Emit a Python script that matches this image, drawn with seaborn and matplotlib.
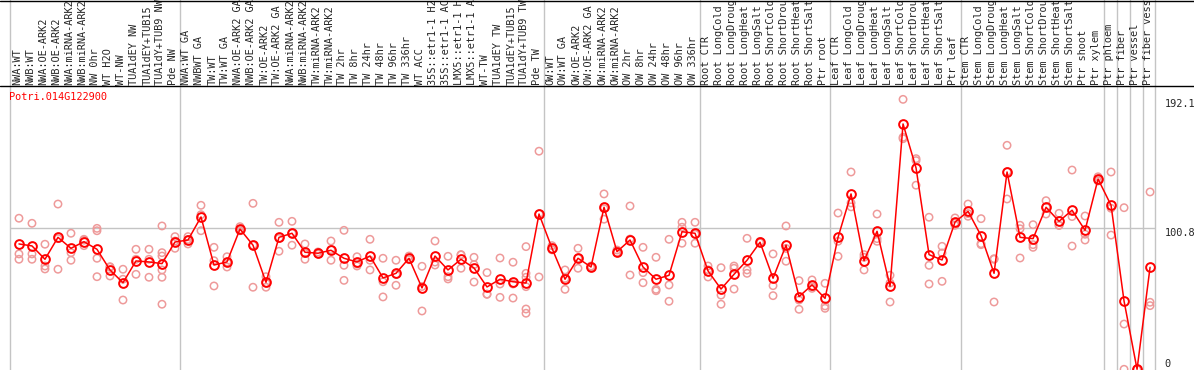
import numpy as np
import pandas as pd
import seaborn as sns
import matplotlib
matplotlib.use('Agg')
import matplotlib.pyplot as plt
from matplotlib.lines import Line2D

sns.set_style('white')
plt.rcParams['font.family'] = ['DejaVu Sans Mono']

gene = 'Potri.014G122900'

labels = [
    'NWA:WT', 'NWB:WT', 'NWA:OE-ARK2', 'NWB:OE-ARK2', 'NWA:miRNA-ARK2', 'NWB:miRNA-ARK2',
    'NW 0hr', 'WT H2O', 'WT-NW', 'TUA1dEY NW', 'TUA1dEY+TUB15', 'TUA1dY+TUB9 NW', 'Pde NW',
    'NWA:WT GA', 'NWBWT GA', 'TW:WT', 'TW:WT GA', 'NWA:OE-ARK2 GA', 'NWB:OE-ARK2 GA',
    'TW:OE-ARK2', 'TW:OE-ARK2 GA', 'NWA:miRNA-ARK2', 'NWB:miRNA-ARK2', 'TW:miRNA-ARK2',
    'TW:miRNA-ARK2', 'TW 2hr', 'TW 8hr', 'TW 24hr', 'TW 48hr', 'TW 96hr', 'TW 336hr',
    'WT ACC', '35S::etr1-1 H2', '35S::etr1-1 AC', 'LMX5::etr1-1 H', 'LMX5::etr1-1 A',
    'WT-TW', 'TUA1dEY TW', 'TUA1dEY+TUB15', 'TUA1dY+TUB9 TW', 'Pde TW',
    'OW:WT', 'OW:WT GA', 'OW:OE-ARK2', 'OW:OE-ARK2 GA', 'OW:miRNA-ARK2', 'OW:miRNA-ARK2',
    'OW 2hr', 'OW 8hr', 'OW 24hr', 'OW 48hr', 'OW 96hr', 'OW 336hr',
    'Root CTR', 'Root LongCold', 'Root LongDroug', 'Root LongHeat', 'Root LongSalt',
    'Root ShortCold', 'Root ShortDrou', 'Root ShortHeat', 'Root ShortSalt', 'Ptr root',
    'Leaf CTR', 'Leaf LongCold', 'Leaf LongDroug', 'Leaf LongHeat', 'Leaf LongSalt',
    'Leaf ShortCold', 'Leaf ShortDrou', 'Leaf ShortHeat', 'Leaf ShortSalt', 'Ptr leaf',
    'Stem CTR', 'Stem LongCold', 'Stem LongDroug', 'Stem LongHeat', 'Stem LongSalt',
    'Stem ShortCold', 'Stem ShortDrou', 'Stem ShortHeat', 'Stem ShortSalt', 'Ptr shoot',
    'Ptr xylem', 'Ptr phloem', 'Ptr fiber', 'Ptr vessel', 'Ptr fiber vess',
]

# mean expression per sample
means = [
    89.2, 87.8, 78.3, 93.9, 86.1, 90.8, 85.4, 70.7, 61.6, 77.1, 76.4, 75.2, 90.6,
    92.0, 108.4, 74.2, 76.4, 99.8, 88.3, 61.9, 93.9, 96.8, 83.3, 82.6, 84.7, 79.0,
    76.4, 80.6, 65.0, 68.3, 79.0, 57.9, 80.6, 70.7, 78.3, 72.1, 58.6, 64.1, 62.3,
    61.4, 110.5,
    86.1, 64.1, 79.0, 72.8, 115.3, 83.7, 92.0, 72.8, 64.1, 66.9, 97.9, 96.8,
    70.0, 57.1, 67.6, 77.6, 90.4, 64.8, 88.3, 51.7, 60.0, 50.5,
    93.9, 124.8, 77.3, 98.2, 59.1, 174.6, 143.3, 81.6, 77.8, 104.8,
    112.4, 95.1, 68.3, 140.4, 93.9, 93.0, 115.3, 105.3, 113.2, 98.9, 135.4,
    116.7, 48.5, 0.0, 72.6,
]

# individual replicates per sample
reps = [
    [107.5, 82.1, 78.3], [103.9, 82.1, 78.3], [89.0, 73.5, 71.4], [117.6, 93.0, 71.2],
    [96.8, 83.0, 77.6], [92.5, 88.0, 91.9], [100.3, 98.6, 79.0, 65.9], [73.0, 66.4, 72.7],
    [71.2, 64.1, 49.3], [85.4, 78.3, 67.6], [85.4, 78.3, 65.5],
    [102.0, 83.0, 80.6, 70.7, 65.5, 46.3], [94.4, 86.1, 91.3],
    [94.4, 89.2, 92.4], [116.7, 98.6, 110.0], [86.8, 77.3, 59.3], [80.1, 72.8, 76.3],
    [101.5, 98.6, 99.3], [118.1, 58.4, 88.4], [65.9, 58.4, 61.4], [104.6, 84.0, 93.1],
    [105.3, 88.3, 96.8], [89.2, 78.3, 82.4], [83.5, 82.0, 82.3], [91.3, 77.6, 85.2],
    [98.9, 74.0, 63.3], [80.1, 74.9, 73.5], [92.5, 77.6, 70.7], [79.0, 62.3, 51.5],
    [77.6, 59.8, 67.5], [80.6, 78.5, 78.0], [73.3, 41.5, 58.9], [91.3, 74.2, 76.3],
    [80.4, 65.9, 64.3], [81.6, 71.9, 81.4], [79.7, 62.1, 74.5], [68.8, 53.4, 53.5],
    [79.2, 60.7, 51.2], [76.2, 60.7, 50.7], [87.3, 68.3, 65.5, 58.8, 42.9, 39.9],
    [155.2, 65.7, 110.6],
    [88.0, 85.0, 85.3], [70.7, 56.9, 64.7], [86.1, 71.9, 79.0], [73.5, 72.5, 72.4],
    [124.8, 106.8, 114.3], [84.9, 83.0, 83.2], [116.2, 67.1, 92.7], [86.8, 68.8, 61.6],
    [79.7, 56.9, 55.9], [92.5, 60.0, 48.4], [104.6, 101.1, 89.7], [104.6, 89.7, 96.1],
    [73.5, 65.7, 70.8], [72.3, 52.8, 46.3], [73.5, 71.9, 57.1], [93.2, 70.7, 68.3],
    [91.0, 90.0, 90.2], [82.1, 59.5, 52.4], [102.0, 76.9, 86.0], [63.1, 42.7, 49.3],
    [63.6, 57.6, 58.8], [61.2, 45.1, 43.4],
    [111.2, 80.4, 91.1], [140.4, 118.4, 115.6], [81.6, 70.7, 79.7], [110.5, 91.1, 93.0],
    [66.9, 61.4, 47.9], [192.1, 165.1, 164.1], [149.9, 148.5, 131.0], [108.2, 74.0, 60.7],
    [87.5, 82.8, 62.6], [107.7, 102.5, 104.2],
    [117.6, 108.9, 110.8], [107.2, 88.7, 89.4], [78.7, 47.9, 78.3], [159.4, 121.2, 140.6],
    [102.5, 79.2, 100.0], [102.9, 88.7, 86.8], [120.0, 110.5, 115.4], [111.0, 102.5, 102.4],
    [141.8, 108.7, 87.7], [109.1, 96.1, 92.0], [137.0, 135.0, 134.0],
    [140.4, 114.6, 95.5], [115.0, 32.2, 0.0], [0.0, 0.0, 0.0], [126.2, 47.7, 45.3],
]

# last sample index of each group (separator drawn after it)
group_ends = [12, 40, 52, 62, 72, 83, 84, 85, 86]
ytick_vals = [0, 100.8, 192.1]

W, H = 1194, 370
xlo, xhi = -0.69, 87.38
pos = np.arange(len(labels))
df_mean = pd.DataFrame({'pos': pos, 'mean': means})
df_reps = pd.DataFrame([(i, v) for i, r in enumerate(reps) for v in r], columns=['pos', 'value'])

fig = plt.figure(figsize=(W / 100, H / 100), dpi=100)

# overlay for sample labels and group separators
ax_lab = fig.add_axes([10 / W, 0, 1145 / W, 1])
ax_lab.set_xlim(xlo, xhi)
ax_lab.set_ylim(0, H)
ax_lab.axis('off')
for x in [xlo] + [g + 0.42 for g in group_ends] + [xhi]:
    ax_lab.axvline(x, color='#c4c4c4', lw=1, clip_on=False, zorder=0)
for i, lab in enumerate(labels):
    ax_lab.text(i - 0.12, H - 85, lab, rotation=90, ha='center', va='bottom', fontsize=7.4)

ax = fig.add_axes([10 / W, 0, 1145 / W, 284 / H])
ax.patch.set_alpha(0)
ax.axhline(100.8, color='#c4c4c4', lw=1, zorder=0)
sns.scatterplot(data=df_reps, x='pos', y='value', marker='o', s=28,
                facecolors='none', edgecolor='#ee9a9a', linewidth=1.1, ax=ax, zorder=2)
sns.lineplot(data=df_mean, x='pos', y='mean', color='red', lw=1.1, marker='o', markersize=6.3,
             markerfacecolor='none', markeredgecolor='red', markeredgewidth=1.4, ax=ax, zorder=3)
ax.set_xlim(xlo, xhi)
ax.set_ylim(-0.5, 201.6)
ax.set_xticks([])
ax.set_xlabel('')
ax.set_ylabel('')
for s in ax.spines.values():
    s.set_visible(False)
ax.yaxis.tick_right()
ax.set_yticks(ytick_vals)
ax.set_yticklabels(['0', '100.8', '192.1'])
ax.tick_params(axis='y', length=0, pad=7, labelsize=7.4)
for t, v in zip(ax.get_yticklabels(), ytick_vals):
    t.set_va('bottom' if v == 0 else 'top')

fig.text(9 / W, 1 - 97 / H, gene, color='red', fontsize=7.4, va='center', ha='left')
fig.add_artist(Line2D([0, 1], [1 - 0.5 / H] * 2, transform=fig.transFigure, color='black', lw=1))
fig.add_artist(Line2D([0, 1], [1 - 86 / H] * 2, transform=fig.transFigure, color='black', lw=1))

fig.savefig('out.png', dpi=100)
